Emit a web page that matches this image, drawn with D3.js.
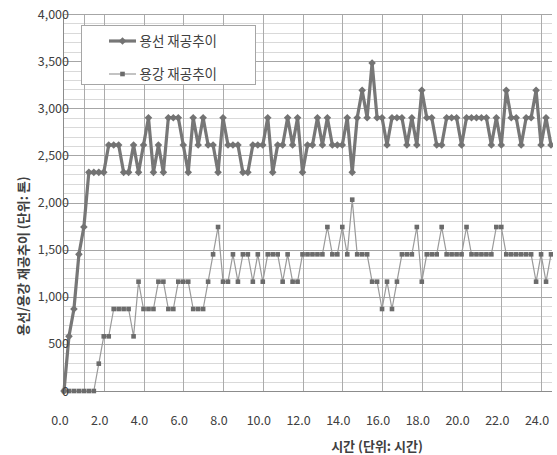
<!DOCTYPE html>
<html>
<head>
<meta charset="utf-8">
<script src="https://cdn.jsdelivr.net/npm/d3@7"></script>
<style>
  body { margin: 0; overflow: hidden; background: #fff; }
  text { font-family: "Noto Sans CJK KR", "Noto Sans", sans-serif; fill: #404040; }
</style>
</head>
<body>
<svg></svg>
<script>
// time of each sample (hours)
const times = [
  0, 0.25, 0.5, 0.75, 1, 1.25, 1.5, 1.75, 2, 2.25, 2.5, 2.75, 3, 3.25, 3.5, 3.75,
  4, 4.25, 4.5, 4.75, 5, 5.25, 5.5, 5.75, 6, 6.25, 6.5, 6.75, 7, 7.25, 7.5, 7.75,
  8, 8.25, 8.5, 8.75, 9, 9.25, 9.5, 9.75, 10, 10.25, 10.5, 10.75, 11, 11.25, 11.5, 11.75,
  12, 12.25, 12.5, 12.75, 13, 13.25, 13.5, 13.75, 14, 14.25, 14.5, 14.75, 15, 15.25, 15.5, 15.75,
  16, 16.25, 16.5, 16.75, 17, 17.25, 17.5, 17.75, 18, 18.25, 18.5, 18.75, 19, 19.25, 19.5, 19.75,
  20, 20.25, 20.5, 20.75, 21, 21.25, 21.5, 21.75, 22, 22.25, 22.5, 22.75, 23, 23.25, 23.5, 23.75,
  24, 24.25, 24.5
];

// 용선 재공추이 (hot metal WIP, tons)
const ironWip = [
  0, 580, 870, 1450, 1740, 2320, 2320, 2320, 2320, 2610, 2610, 2610, 2320, 2320, 2610, 2320,
  2610, 2900, 2320, 2610, 2320, 2900, 2900, 2900, 2610, 2320, 2900, 2610, 2900, 2610, 2610, 2320,
  2900, 2610, 2610, 2610, 2320, 2320, 2610, 2610, 2610, 2900, 2320, 2610, 2610, 2900, 2610, 2900,
  2320, 2610, 2610, 2900, 2610, 2900, 2610, 2610, 2610, 2900, 2320, 2900, 3190, 2900, 3480, 2900,
  2900, 2610, 2900, 2900, 2900, 2610, 2900, 2610, 3190, 2900, 2900, 2610, 2610, 2900, 2900, 2900,
  2610, 2900, 2900, 2900, 2900, 2900, 2610, 2900, 2610, 3190, 2900, 2900, 2610, 2900, 2900, 3190,
  2610, 2900, 2610
];

// 용강 재공추이 (molten steel WIP, tons)
const steelWip = [
  0, 0, 0, 0, 0, 0, 0, 290, 580, 580, 870, 870, 870, 870, 580, 1160,
  870, 870, 870, 1160, 1160, 870, 870, 1160, 1160, 1160, 870, 870, 870, 1160, 1450, 1740,
  1160, 1160, 1450, 1160, 1450, 1450, 1160, 1450, 1160, 1450, 1450, 1450, 1160, 1450, 1160, 1160,
  1450, 1450, 1450, 1450, 1450, 1740, 1450, 1450, 1740, 1450, 2030, 1450, 1450, 1450, 1160, 1160,
  870, 1160, 870, 1160, 1450, 1450, 1450, 1740, 1160, 1450, 1450, 1450, 1740, 1450, 1450, 1450,
  1450, 1740, 1450, 1450, 1450, 1450, 1450, 1740, 1740, 1450, 1450, 1450, 1450, 1450, 1450, 1160,
  1450, 1160, 1450
];

const yTicks = [0, 500, 1000, 1500, 2000, 2500, 3000, 3500, 4000];
const xTicks = [0, 2, 4, 6, 8, 10, 12, 14, 16, 18, 20, 22, 24];
const xGrid = [1, 2, 4, 6, 8, 10, 12, 14, 16, 18, 20, 22, 24];
const seriesNames = ["용선 재공추이", "용강 재공추이"];

const width = 557;
const height = 455;
const plot = { left: 64, right: 552, top: 14, bottom: 391 };

const svg = d3.select("svg")
    .attr("width", width)
    .attr("height", height);

const x = d3.scaleLinear().domain([0, 24.5]).range([plot.left, 551]);
const y = d3.scaleLinear().domain([0, 4000]).range([plot.bottom, plot.top]);

// minor horizontal grid (every 100)
svg.append("g")
    .selectAll("line")
    .data(d3.range(100, 4000, 100).filter(v => v % 500 !== 0))
    .enter().append("line")
    .attr("x1", plot.left).attr("x2", plot.right)
    .attr("y1", d => Math.round(y(d)) + 0.5).attr("y2", d => Math.round(y(d)) + 0.5)
    .style("stroke", "#d9d9d9").style("stroke-width", 1);

// vertical grid
svg.append("g")
    .selectAll("line")
    .data(xGrid)
    .enter().append("line")
    .attr("x1", d => Math.round(x(d)) + 0.5).attr("x2", d => Math.round(x(d)) + 0.5)
    .attr("y1", plot.top).attr("y2", plot.bottom)
    .style("stroke", "#ababab").style("stroke-width", 1);

// major horizontal grid
svg.append("g")
    .selectAll("line")
    .data(yTicks.filter(v => v > 0))
    .enter().append("line")
    .attr("x1", plot.left).attr("x2", plot.right)
    .attr("y1", d => Math.round(y(d)) + 0.5).attr("y2", d => Math.round(y(d)) + 0.5)
    .style("stroke", "#a6a6a6").style("stroke-width", 1);

// axis lines
svg.append("line")
    .attr("x1", plot.left).attr("x2", plot.right)
    .attr("y1", plot.bottom + 0.5).attr("y2", plot.bottom + 0.5)
    .style("stroke", "#8c8c8c");
svg.append("line")
    .attr("x1", plot.left - 0.5).attr("x2", plot.left - 0.5)
    .attr("y1", plot.top).attr("y2", plot.bottom)
    .style("stroke", "#8c8c8c");

// clip so the series stop at the right border
svg.append("clipPath").attr("id", "plotClip")
    .append("rect")
    .attr("x", plot.left - 6).attr("y", plot.top - 6)
    .attr("width", plot.right - plot.left + 7).attr("height", plot.bottom - plot.top + 12);

const dataArea = svg.append("g").attr("clip-path", "url(#plotClip)");

const ironPts = times.map((t, i) => [t, ironWip[i]]);
const steelPts = times.map((t, i) => [t, steelWip[i]]);

const line = d3.line().x(d => x(d[0])).y(d => y(d[1]));

const diamond = r => `M0,${-r}L${r},0L0,${r}L${-r},0Z`;

// 용강 (thin line, square markers)
dataArea.append("path")
    .datum(steelPts)
    .attr("d", line)
    .style("fill", "none")
    .style("stroke", "#9a9a9a")
    .style("stroke-width", 1.2);

dataArea.selectAll(".steel")
    .data(steelPts)
    .enter().append("rect")
    .attr("class", "steel")
    .attr("x", d => x(d[0]) - 2.3)
    .attr("y", d => y(d[1]) - 2.3)
    .attr("width", 4.6).attr("height", 4.6)
    .style("fill", "#6b6b6b");

// 용선 (thick line, diamond markers)
dataArea.append("path")
    .datum(ironPts)
    .attr("d", line)
    .style("fill", "none")
    .style("stroke", "#777777")
    .style("stroke-width", 3.2)
    .style("stroke-linejoin", "round");

dataArea.selectAll(".iron")
    .data(ironPts)
    .enter().append("path")
    .attr("class", "iron")
    .attr("transform", d => `translate(${x(d[0])},${y(d[1])})`)
    .attr("d", diamond(3.8))
    .style("fill", "#737373");

// y tick labels (they sit a little over the axis line)
svg.append("g")
    .selectAll("text")
    .data(yTicks)
    .enter().append("text")
    .attr("x", 69)
    .attr("y", d => y(d))
    .attr("dy", "0.36em")
    .style("text-anchor", "end")
    .style("font-size", "12.5px")
    .text(d => d3.format(",")(d));

// x tick labels
svg.append("g")
    .selectAll("text")
    .data(xTicks)
    .enter().append("text")
    .attr("x", d => x(d) - 4)
    .attr("y", 425)
    .style("text-anchor", "middle")
    .style("font-size", "12.5px")
    .text(d => d3.format(".1f")(d));

// axis titles
svg.append("text")
    .attr("x", 377).attr("y", 451)
    .style("text-anchor", "middle")
    .style("font-size", "13px")
    .style("font-weight", "bold")
    .text("시간 (단위: 시간)");

svg.append("text")
    .attr("transform", "translate(23,256) rotate(-90)")
    .attr("dy", "0.35em")
    .style("text-anchor", "middle")
    .style("font-size", "13px")
    .style("font-weight", "bold")
    .text("용선/용강 재공추이 (단위: 톤)");

// legend
const legend = svg.append("g");
legend.append("rect")
    .attr("x", 81.5).attr("y", 25.5)
    .attr("width", 174).attr("height", 59)
    .style("fill", "#fff")
    .style("stroke", "#a6a6a6");

const legendRows = [
  { y: 41, stroke: "#777777", sw: 3.2, mark: "diamond" },
  { y: 74, stroke: "#9a9a9a", sw: 1.2, mark: "square" }
];

legendRows.forEach((row, i) => {
  const g = legend.append("g").attr("transform", `translate(0,${row.y})`);
  g.append("line")
      .attr("x1", 109).attr("x2", 136)
      .style("stroke", row.stroke).style("stroke-width", row.sw);
  if (row.mark === "diamond") {
    g.append("path").attr("transform", "translate(122.5,0)")
        .attr("d", diamond(3.8)).style("fill", "#737373");
  } else {
    g.append("rect").attr("x", 120.2).attr("y", -2.3)
        .attr("width", 4.6).attr("height", 4.6).style("fill", "#6b6b6b");
  }
  g.append("text")
      .attr("x", 139.5).attr("dy", "0.36em")
      .style("font-size", "13.5px")
      .text(seriesNames[i]);
});
</script>
</body>
</html>
